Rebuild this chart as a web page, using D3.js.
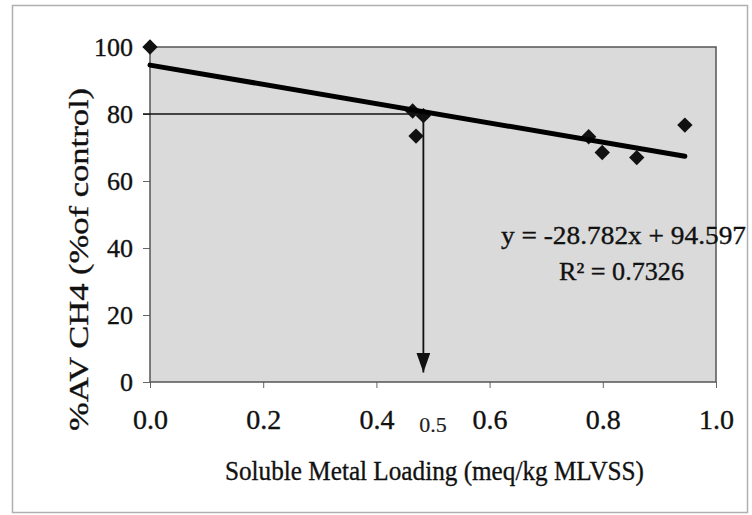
<!DOCTYPE html>
<html><head><meta charset="utf-8">
<script src="https://cdn.jsdelivr.net/npm/d3@7"></script>
<style>html,body{margin:0;padding:0;background:#fff;}svg{display:block;}
text{stroke:#111;stroke-width:0.35px;}</style>
</head><body>
<svg id="c" width="752" height="515"></svg>
<script>
// Data
const loading = [0, 0.464, 0.47, 0.483, 0.775, 0.799, 0.86, 0.945];
const avCH4   = [100, 80.9, 73.4, 79.5, 73.2, 68.5, 67, 76.7];
const xTicks = [0, 0.2, 0.4, 0.6, 0.8, 1.0];
const yTicks = [0, 20, 40, 60, 80, 100];
const trendSlope = [-28.782];
const trendIntercept = [94.597];
const targetY = [80];
const targetX = [0.483];
const targetLabel = ["0.5"];
const eqLabels = ["y = -28.782x + 94.597", "R² = 0.7326"];

const svg = d3.select("#c");
const font = "'Liberation Serif','Times New Roman',serif";
const L = 150, R = 716, T = 47, B = 382;
const x = d3.scaleLinear().domain([0, 1]).range([L, R]);
const y = d3.scaleLinear().domain([0, 100]).range([B, T]);

// page frame
svg.append("rect").attr("x", 12.5).attr("y", 5.5).attr("width", 735).attr("height", 507)
  .attr("fill", "#fff").attr("stroke", "#b0b0b0").attr("stroke-width", 1.5);

// plot area
svg.append("rect").attr("x", L).attr("y", T).attr("width", R - L).attr("height", B - T)
  .attr("fill", "#dadada").attr("stroke", "none");

// axes
const yAxis = d3.axisLeft(y).tickValues(yTicks).tickSize(7).tickPadding(10).tickFormat(d3.format("d"));
const gy = svg.append("g").attr("transform", `translate(${L},0)`).call(yAxis);
gy.select(".domain").remove();
gy.selectAll("line").attr("stroke", "#666");
gy.selectAll("text").attr("font-family", font).attr("font-size", 26).attr("fill", "#111");

const xAxis = d3.axisBottom(x).tickValues(xTicks).tickSize(6).tickPadding(21).tickFormat(d3.format(".1f"));
const gx = svg.append("g").attr("transform", `translate(0,${B})`).call(xAxis);
gx.select(".domain").remove();
gx.selectAll("line").attr("stroke", "#666");
gx.selectAll("text").attr("font-family", font).attr("font-size", 28).attr("fill", "#111");

// plot border
svg.append("rect").attr("x", L).attr("y", T).attr("width", R - L).attr("height", B - T)
  .attr("fill", "none").attr("stroke", "#555").attr("stroke-width", 1.5);

// reference lines (80% target)
svg.append("line").attr("x1", L - 7).attr("x2", x(targetX[0])).attr("y1", y(targetY[0])).attr("y2", y(targetY[0]))
  .attr("stroke", "#111").attr("stroke-width", 1.6);
svg.append("defs").append("marker").attr("id", "arr").attr("viewBox", "0 0 10 10")
  .attr("preserveAspectRatio", "none")
  .attr("refX", 10).attr("refY", 5).attr("markerWidth", 20).attr("markerHeight", 14)
  .attr("markerUnits", "userSpaceOnUse").attr("orient", "auto")
  .append("path").attr("d", "M0,0L10,5L0,10Z").attr("fill", "#111");
svg.append("line").attr("x1", x(targetX[0])).attr("x2", x(targetX[0])).attr("y1", y(targetY[0])).attr("y2", y(2.8))
  .attr("stroke", "#111").attr("stroke-width", 1.8).attr("marker-end", "url(#arr)");

// points
const sym = d3.symbol().type(d3.symbolDiamond2).size(150);
svg.append("g").selectAll("path").data(loading).join("path")
  .attr("transform", (d, i) => `translate(${x(d)},${y(avCH4[i])})`)
  .attr("d", sym).attr("fill", "#111");

// trend line
const xMax = d3.max(loading);
svg.append("line")
  .attr("x1", x(0)).attr("y1", y(trendIntercept[0]))
  .attr("x2", x(xMax)).attr("y2", y(trendIntercept[0] + trendSlope[0] * xMax))
  .attr("stroke", "#000").attr("stroke-width", 5).attr("stroke-linecap", "round");

// equation labels
svg.append("text").attr("x", 501).attr("y", 244).attr("font-family", font).attr("font-size", 25)
  .attr("textLength", 245).attr("lengthAdjust", "spacingAndGlyphs").attr("fill", "#111").text(eqLabels[0]);
svg.append("text").attr("x", 559).attr("y", 280).attr("font-family", font).attr("font-size", 25)
  .attr("textLength", 125).attr("lengthAdjust", "spacingAndGlyphs").attr("fill", "#111").text(eqLabels[1]);

// 0.5 annotation
svg.append("text").attr("x", 433).attr("y", 432).attr("text-anchor", "middle").attr("font-family", font)
  .attr("font-size", 22).attr("fill", "#222").style("stroke-width", "0.15px").text(targetLabel[0]);

// axis titles
svg.append("text").attr("x", 225).attr("y", 480).attr("font-family", font).attr("font-size", 28)
  .attr("textLength", 419).attr("lengthAdjust", "spacingAndGlyphs").attr("fill", "#111")
  .text("Soluble Metal Loading (meq/kg MLVSS)");
svg.append("text").attr("transform", "translate(88,431) rotate(-90)").attr("font-family", font).attr("font-size", 28)
  .attr("textLength", 343).attr("lengthAdjust", "spacingAndGlyphs").attr("fill", "#111")
  .text("%AV CH4 (%of control)");
</script>
</body></html>
